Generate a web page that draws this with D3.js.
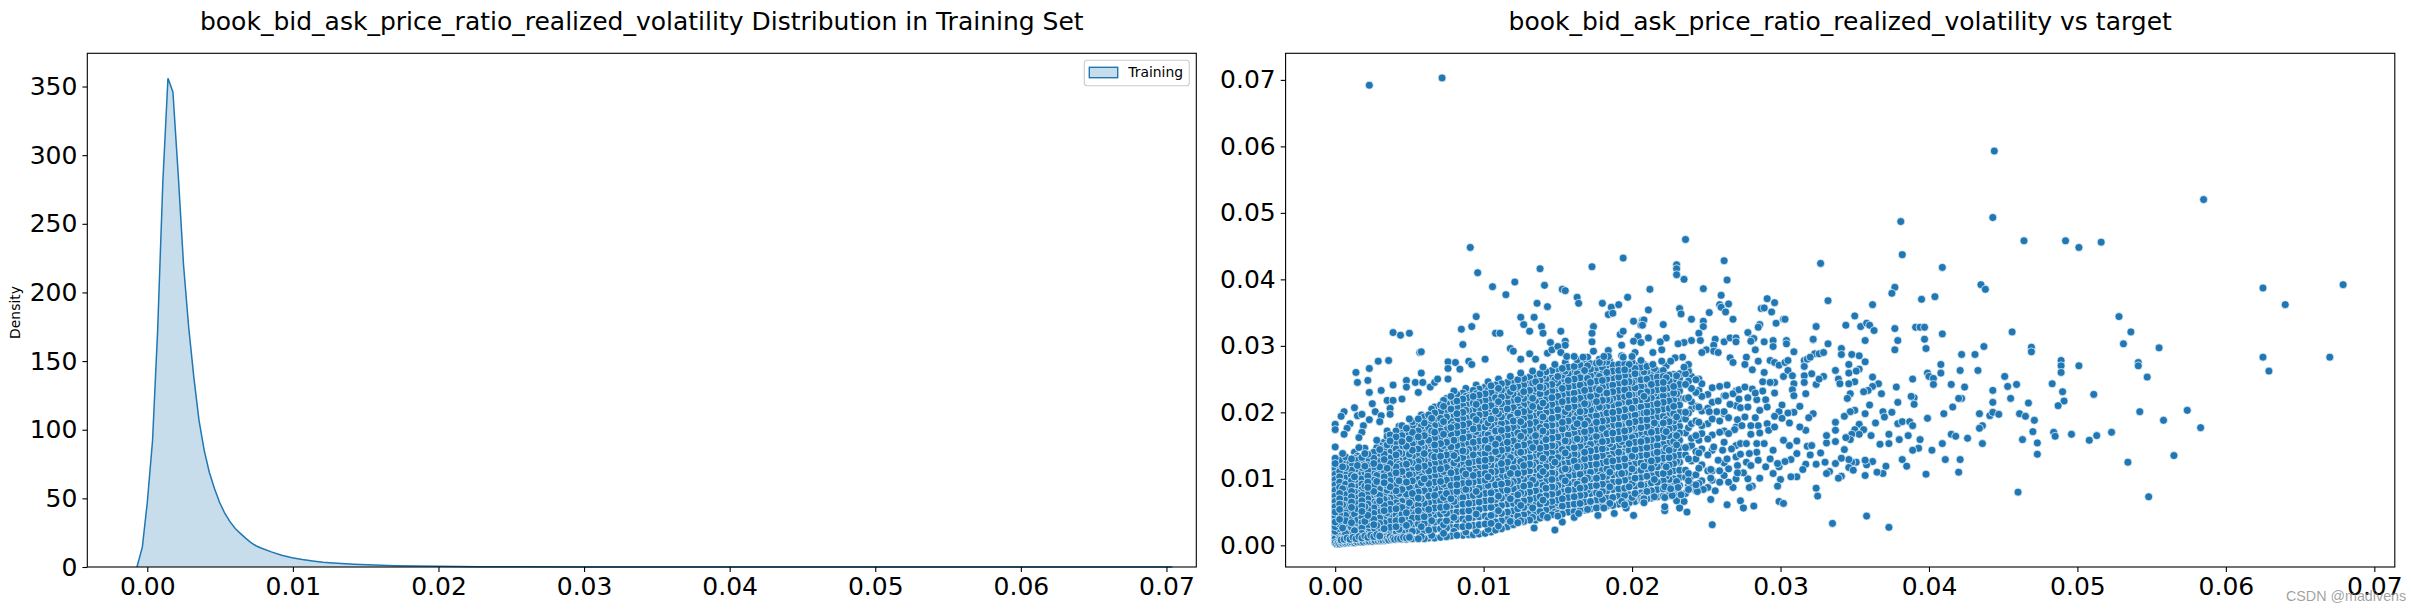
<!DOCTYPE html>
<html>
<head>
<meta charset="utf-8">
<script src="https://cdn.jsdelivr.net/npm/d3@7"></script>
<style>
html,body{margin:0;padding:0;background:#fff;overflow:hidden}
svg{display:block}
text{font-family:"DejaVu Sans",sans-serif;fill:#000}
</style>
</head>
<body>
<svg id="fig" width="2411" height="611"></svg>
<script>
const feature="book_bid_ask_price_ratio_realized_volatility";
const xTicks=[0,0.01,0.02,0.03,0.04,0.05,0.06,0.07];
const densityTicks=[0,50,100,150,200,250,300,350];
const targetTicks=[0,0.01,0.02,0.03,0.04,0.05,0.06,0.07];

// kde curve
const kdeX=[-0.00071,-0.00034,0,0.00036,0.00071,0.00107,0.00142,0.00176,0.00213,0.00249,0.00284,0.0032,0.00355,0.00391,0.00426,0.00462,0.00497,0.00533,0.00568,0.00604,0.00639,0.00675,0.0071,0.00746,0.00781,0.00852,0.00923,0.00994,0.01065,0.01136,0.01207,0.01278,0.0142,0.0156,0.017,0.0185,0.02,0.0227,0.0256,0.03,0.04,0.05,0.06,0.0704];
const kdeY=[0,14.5,47,92,172,281,356,346,285,220,175,138,107,85,69,57,47,39,33,28,24.5,21,18,15.5,13.8,11,8.5,6.7,5.4,4.4,3.5,2.9,2,1.4,1,0.7,0.5,0.25,0.12,0.05,0.02,0.01,0.01,0];

// scatter values are in units of 1e-4, flat x,y lists
const rightTail=[444,593,585,520,443,493,381,487,464,458,492,458,501,448,516,456,382,437,409,418,327,424,625,387,679,392,640,362,435,392,438,385,404,374,395,370,377,388,375,379,362,362,332,368,528,344,536,321,456,321,409,318,350,345,344,331,354,329,358,334,360,331,363,323,324,329,377,326,391,328,394,328,397,328,531,303,555,297,469,298,469,291,437,299,397,310,379,308,357,308,332,303,322,310,398,296,377,294,341,296,341,287,348,287,353,285,326,288,329,290,422,287,431,287,489,278,489,270,489,260,501,270,541,275,541,270,547,253,625,283,670,283,629,262,357,276,346,272,353,265,351,262,346,259,337,263,408,272,421,263,433,263,408,259,399,259,400,254,403,251,389,250,362,253,350,246,346,243,339,250,329,254,326,250,340,243,366,243,362,239,378,238,403,242,415,242,424,238,451,254,453,239,459,242,443,233,483,243,490,231,511,227,491,217,487,210,467,214,455,221,443,215,422,221,420,221,416,208,410,198,390,222,388,224,390,212,379,215,368,228,359,233,356,231,347,228,345,221,360,211,369,201,375,200,357,198,350,203,347,201,434,198,441,195,443,200,447,197,461,198,465,194,471,188,542,201,574,203,558,188,583,177,399,191,370,193,364,184,379,183,382,186,387,186,389,180,353,182,356,174,350,174,343,194,337,185,436,180,434,176,470,171,484,170,485,164,496,167,513,165,523,170,508,158,473,154,463,159,436,153,426,161,415,167,418,164,409,153,394,159,386,165,380,159,373,167,373,153,367,152,361,165,353,167,348,167,347,159,344,162,337,173,337,156,331,154,331,165,343,144,473,137,565,135,402,143,393,146,389,143,382,129,411,129,421,129,534,125,371,119,385,119,362,126,358,121,357,128,351,125,348,125,346,129,341,131,337,123,346,117,349,113,330,125,327,139,420,110,398,107,369,108,365,110,357,105,341,104,339,101,333,111,331,108,460,80,548,73,324,86,325,74,358,44,335,33,373,27];

const midCloud=[236,460,262,428,230,422,230,416,230,407,235,400,264,399,212,385,248,386,260,376,291,371,296,365,259,362,260,358,265,363,263,351,232,356,233,348,211,354,252,350,287,356,289,357,294,351,240,340,268,340,302,340,303,340,297,334,248,337,248,329,221,332,208,339,207,331,286,332,285,328,324,329,278,320,245,319,322,309,223,312,219,306,211,312,240,308,235,305,231,303,246,308,256,310,262,306,266,312,270,312,270,306,281,311,282,311,280,307,289,306,295,308,295,299,304,308,304,303,323,288,283,294,255,301,250,294,247,290,255,292,258,290,309,291,220,294,214,290,234,283,229,282,226,277,214,272,220,277,238,272,235,268,266,282,268,275,277,283,276,272,285,277,281,264,293,278,296,275,299,271,303,275,305,278,316,278,318,280,320,283,316,269,321,258,289,260,302,254,305,263,308,255,316,255,288,246,296,245,293,245,309,243,316,245,324,242,308,234,317,228,309,225,296,229,288,232,313,209,301,211,322,198,309,200,299,201,305,199,319,192,296,194,306,184,301,191,317,173,313,178,311,157,302,158,306,150,318,149,321,150,311,138,320,136,295,143,324,122,317,122,307,129,303,126,315,114,311,103,307,103,300,99,298,89,295,108,290,118,299,118,298,123,286,101,278,100,281,89,279,87,273,67,275,56,282,59,264,61,253,69,299,66,302,63,254,31,237,50,222,52,222,58,232,56,235,66,230,67,222,72,215,73,208,70,208,64,256,82,268,87,248,84,244,81,238,84,233,76,227,75,222,88,264,241,259,239,268,228,272,234,276,238,281,235,263,225,258,217,266,212,272,220,278,222,284,219,290,219,283,229,273,207,278,208,286,203,291,208,262,201,257,201,252,201,259,187,265,192,271,189,276,193,283,192,291,183,285,180,280,180,274,180,269,174,265,168,259,170,280,167,292,173,296,178,286,169,273,153,277,153,284,153,289,153,267,145,261,143,255,148,284,140,279,138,273,137,264,130,258,128,293,130,285,128,277,125,271,120,265,115,259,112,253,114,280,120,275,109,271,109,259,95,265,95,253,101,243,91,238,97,231,87,226,85];

const upperFringe=[23,692,72,703,91,448,96,410,138,416,173,419,194,432,106,389,115,377,121,396,141,391,153,385,155,383,163,373,164,364,136,364,143,359,180,364,186,358,191,362,197,373,184,347,187,349,201,337,207,338,206,331,95,344,92,329,85,325,125,343,134,343,127,332,131,322,139,329,140,319,152,322,174,329,173,319,173,306,192,317,194,322,193,301,204,314,201,307,206,305,145,305,155,307,155,301,39,320,44,316,50,319,108,319,111,319,86,302,118,296,120,292,57,290,58,291,29,277,36,278,76,276,81,275,90,277,92,272,101,280,76,266,84,265,125,280,131,288,135,280,143,289,146,294,150,299,152,290,156,284,161,284,167,283,174,292,178,275,184,293,184,284,181,284,194,283,202,290,200,284,206,278,23,266,14,260,58,259,15,245,22,248,48,248,48,238,54,245,59,245,64,238,67,245,69,250,76,250,23,230,31,233,39,241,56,230,35,218,39,218,45,220,25,213,37,206,13,207,6,201,4,194,15,195,18,197,27,201,31,195,37,197,23,189,30,186,0,182,0,174,10,183,8,176,6,167,19,180,18,170,16,162,0,148,16,147,5,138];

const lowerFringe=[134,26,148,23,153,35,161,42,177,45,188,48,201,45,196,56,195,61,206,71,207,69,164,48,170,54,181,56,143,42,150,44];

// stacked points hugging x=0 and the lower edge, mostly just white rims show
const leftEdge=[0,5,1,8,0,11,1,14,0,17,1,20,0,23,1,26,0,29,1,32,0,35,1,38,0,41,1,44,0,47,1,50,0,53,1,56,0,59,1,62,0,65,1,68,0,71,1,74,0,77,1,80,0,83,1,86,0,89,1,92,0,95,1,98,0,101,1,104,0,107,1,110,0,113,1,116,0,119,1,122,0,125];
const lowerCorner=[1,2,2,3,3,2,4,4,5,3,6,5,7,3,8,4,9,6,10,4,11,5,12,7,13,4,14,6,15,5,16,8,17,5,18,7,19,5,20,9,21,6,22,8,23,6,24,10,25,6,26,8,27,7,28,11,29,7,30,9,31,7,32,8,33,12,34,8,35,10,36,8,37,13,38,9,39,11,40,9,42,10,44,10,46,12,48,11,50,12,4,8,6,9,8,11,10,9,12,12,14,10,16,13,18,11,20,14,22,12,24,15,26,13,28,16,30,14];

// dense part of the cloud, column x then the y values read along it
const coreX=[0,3,7,11,15,18,22,26,30,33,37,41,45,48,52,56,60,63,67,71,75,78,82,86,90,93,97,101,105,108,112,116,120,123,127,131,135,138,142,146,150,153,157,161,165,168,172,176,180,183,187,191,195,198,202,206,210,213,217,221,225,228,232,236,240,243,247,251];
const coreY=[
[4,10,15,21,28,35,43,50,58,66,74,83,91,99,107,115,123,131],
[5,9,14,19,25,32,39,47,54,62,70,78,87,95,103,111,119,128],
[4,8,13,18,24,30,37,45,53,60,68,76,84,92,101,109,117,126,133],
[5,9,14,20,27,34,41,49,57,65,73,81,89,97,105,113,121,130],
[5,10,16,23,31,38,46,55,63,71,79,88,96,104,112,120,128,134],
[6,11,18,26,34,42,51,59,67,75,84,92,100,108,117,125,132],
[6,12,20,29,37,45,53,62,70,79,87,95,104,112,120,129,137],
[6,13,22,31,39,48,56,65,73,81,90,98,107,115,123,131,140],
[7,14,24,33,41,50,58,67,75,84,92,101,109,118,126,135,144,150],
[7,15,25,34,43,52,60,69,77,86,94,103,112,120,129,137,146,155],
[8,17,27,36,45,54,62,71,80,88,97,105,114,123,131,140,148,157,166],
[9,18,28,37,46,55,64,73,82,91,100,109,118,127,136,145,154,163,172],
[9,19,29,38,47,57,66,75,84,93,102,111,120,129,138,147,156,165,174,180],
[9,20,30,40,49,58,67,77,86,95,104,113,122,131,140,149,158,167,176],
[10,21,31,41,50,60,69,78,88,97,106,115,124,134,143,152,161,170,179,186],
[10,21,32,42,52,61,71,80,89,99,108,117,126,136,145,154,163,172,181,190],
[10,22,33,43,53,63,72,82,91,100,110,119,128,138,147,156,165,175,184,193],
[11,23,34,44,54,64,74,83,93,102,112,121,130,140,149,158,168,177,186,196],
[11,24,35,46,56,66,75,85,95,104,114,123,133,142,151,161,170,180,189,199,208],
[12,25,36,47,57,67,77,87,96,106,115,125,134,144,153,163,172,182,191,201,211],
[13,26,37,48,58,68,78,88,98,107,117,126,136,146,155,165,174,184,193,203,213,221],
[14,27,38,49,60,70,80,90,100,109,119,129,138,148,157,167,177,186,196,205,215,224],
[15,28,39,50,61,71,81,91,101,111,120,130,140,150,159,169,179,188,198,208,217,227],
[15,28,40,51,62,72,83,93,103,112,122,132,142,152,161,171,181,190,200,210,220,229],
[16,29,41,52,63,74,84,94,104,114,124,134,144,153,163,173,183,192,202,212,222,231],
[16,30,42,53,64,75,85,95,105,115,126,136,145,155,165,175,184,194,204,214,224,233],
[17,31,43,54,65,76,86,97,107,117,127,137,147,157,167,177,186,196,206,216,226,235],
[18,32,44,56,67,78,88,98,108,118,128,138,148,158,168,178,188,198,208,218,228,238],
[20,33,45,57,68,79,89,100,110,120,130,140,150,160,170,180,190,200,210,220,230,240],
[23,35,47,58,69,80,91,101,111,121,131,141,152,162,172,182,192,202,212,222,232,241],
[25,37,48,60,71,82,92,103,113,123,133,143,153,163,173,183,193,203,213,223,233,243],
[28,39,50,62,73,83,94,104,115,125,135,145,155,165,175,185,195,205,215,225,235,245],
[31,41,52,63,74,85,96,106,116,127,137,147,157,167,177,187,197,207,217,227,237,247],
[34,44,55,65,76,87,97,108,118,129,139,149,159,169,179,189,199,209,219,229,239,249],
[36,46,57,67,78,89,99,110,120,130,141,151,161,171,181,191,201,211,221,231,241,251],
[38,48,59,69,80,91,101,112,122,132,143,153,163,173,183,193,203,213,223,233,243,253],
[38,49,61,71,82,93,103,114,124,134,144,155,165,175,185,195,206,216,226,236,246,256],
[41,51,62,73,84,95,105,116,126,136,146,157,167,177,187,198,208,218,228,238,248,258],
[43,53,64,75,86,97,107,118,128,138,148,159,169,179,189,200,210,220,230,240,250,261],
[46,56,66,77,88,99,109,120,130,140,150,161,171,181,191,202,212,222,232,242,252,263],
[48,58,68,79,90,100,111,122,132,142,152,163,173,183,193,204,214,224,234,244,254,265],
[47,59,70,81,92,102,113,123,134,144,154,165,175,185,195,206,216,226,236,246,256,266],
[50,61,72,83,93,104,114,125,135,146,156,166,177,187,197,207,218,228,238,248,258,268],
[51,62,73,84,95,106,116,127,137,147,158,168,178,189,199,209,219,229,240,250,260,269],
[52,63,75,86,96,107,118,128,139,149,159,170,180,190,201,211,221,231,241,252,262,271],
[53,65,76,87,98,109,119,130,140,151,161,171,182,192,202,213,223,233,243,253,263,272],
[55,66,78,89,100,110,121,132,142,152,163,173,183,194,204,214,224,235,245,255,265,273],
[56,68,79,90,101,112,122,133,144,154,164,175,185,195,206,216,226,236,247,257,267,274],
[58,69,81,92,103,113,124,135,145,156,166,176,187,197,207,218,228,238,248,258,268,275],
[59,71,82,93,104,115,126,136,147,157,168,178,188,199,209,219,229,240,250,260,270,276],
[60,72,84,95,106,117,127,138,148,159,169,180,190,200,211,221,231,241,252,262,271],
[62,74,85,96,107,118,129,140,150,160,171,181,192,202,212,223,233,243,253,263,272],
[63,75,86,98,109,120,130,141,152,162,172,183,193,204,214,224,234,245,255,264,273],
[64,76,88,99,110,121,132,143,153,164,174,184,195,205,215,226,236,246,256,265,272],
[66,78,89,101,112,123,133,144,155,165,176,186,196,207,217,227,237,248,258,266,271],
[68,79,91,102,113,124,135,146,156,167,177,188,198,208,219,229,239,249,259,268],
[70,81,92,104,115,126,136,147,158,168,179,189,200,210,220,231,241,250,260,269],
[71,82,94,105,116,127,138,149,159,170,180,191,201,211,222,232,242,252,261],
[73,84,95,107,118,129,140,150,161,172,182,193,203,213,224,234,244,253,262],
[74,85,97,108,120,131,141,152,163,173,184,194,205,215,225,235,245,254,263],
[75,87,99,110,121,132,143,154,165,175,186,196,206,217,227,237,247,256],
[76,89,100,112,123,134,145,156,166,177,187,198,209,219,229,239,249,257],
[78,90,102,113,125,136,147,158,169,179,190,200,211,221,232,242,251,258],
[78,102,113,136,147,169,190,200,221,242,258],
[92,104,127,150,161,183,205,216,236,254],
[82,106,130,141,165,187,209,230,249],
[97,121,145,168,180,202,224,243],
[87,112,136,160,183,206,227],
[102,127,152,176,198,220,240]
];

// second pass over the same area, these do not line up with the first columns
const looseX=[5,13,20,28,35,43,50,58,65,73,80,88,95,103,110,118,125,133,140,148,155,163,170,178,185,193,200,208,215,223,230,238,245,254,262,270];
const looseY=[
[12,26,33,52,61,85,94,118,127,136],
[7,22,40,47,71,80,103,124,131,140],
[9,17,36,58,65,89,110,119,138,146],
[10,30,44,63,77,96,105,128,147,158],
[11,27,49,68,83,90,116,133,151,164,172],
[12,24,41,59,78,97,122,139,145,168,179],
[14,33,55,64,87,106,125,137,160,174,190],
[13,28,46,70,94,103,129,148,155,179,196],
[15,37,51,79,90,117,135,144,172,191,205],
[18,31,53,72,92,111,128,150,167,186,209,218],
[21,42,66,76,99,124,135,158,181,194,216,232],
[20,35,59,84,107,116,141,163,178,203,224,236],
[22,47,68,81,110,130,148,171,189,212,228,241],
[24,39,63,90,103,125,146,166,184,205,233,246],
[29,52,74,96,119,137,160,175,198,216,236,250],
[36,46,70,93,108,132,152,176,193,211,231,254],
[37,60,79,104,126,140,164,186,204,226,247,259],
[42,56,84,98,121,147,161,181,209,221,244,262],
[45,68,90,111,131,154,172,193,214,237,255,268],
[50,63,87,108,125,149,170,191,205,231,249,272],
[52,74,97,115,139,157,178,201,222,240,262,275],
[55,70,92,118,136,160,183,196,219,243,258,279],
[58,83,101,127,145,168,187,212,230,251,270,283],
[60,77,105,122,149,174,191,208,234,254,274,280],
[63,88,110,131,153,171,196,218,239,260,277],
[66,84,108,137,156,180,203,215,242,257,272,285],
[72,93,115,134,162,177,206,226,245,264,276],
[75,90,119,142,160,188,199,224,238,261,272],
[78,99,123,138,167,184,210,229,248,266],
[82,104,118,146,171,189,213,235,252,270],
[86,96,126,151,165,193,218,228,255],
[90,108,130,148,177,199,222,247,262],
[93,116,139,158,185,208,233,250],
[98,112,143,166,190,215,237],
[105,124,155,172,198,225],
[100,133,150,178,210,232]
];

const pairs=flat=>d3.range(0,flat.length,2).map(i=>[flat[i],flat[i+1]]);
const columns=(xs,ys)=>xs.flatMap((x,i)=>ys[i].map(y=>[x,y]));
// seaborn plots rows in file order, so mix the draw order of the columns a bit
const mixed=[...columns(coreX,coreY),...columns(looseX,looseY)].sort((a,b)=>(a[0]*31+a[1]*17)%23-(b[0]*31+b[1]*17)%23);
const scatterRows=[...pairs(leftEdge),...mixed,...pairs(lowerFringe),...pairs(upperFringe),...pairs(midCloud),...pairs(rightTail),...pairs(lowerCorner)];

const svg=d3.select("#fig");
const tickFmt=d3.format(".2f");
const axTop=53.3,axBottom=567;

function frame(g,x,y,yFmt,yVals){
  g.append("rect").attr("x",x.range()[0]).attr("y",axTop).attr("width",x.range()[1]-x.range()[0]).attr("height",axBottom-axTop)
    .attr("fill","none").attr("stroke","#000").attr("stroke-width",1.1);
  const ax=g.append("g").attr("transform",`translate(0,${axBottom})`)
    .call(d3.axisBottom(x).tickValues(xTicks).tickFormat(tickFmt).tickSize(4.9).tickPadding(5));
  const ay=g.append("g").attr("transform",`translate(${x.range()[0]},0)`)
    .call(d3.axisLeft(y).tickValues(yVals).tickFormat(yFmt).tickSize(4.9).tickPadding(5));
  for(const a of [ax,ay]){
    a.select(".domain").remove();
    a.selectAll("line").attr("stroke","#000").attr("stroke-width",1.1);
    a.selectAll("text").attr("font-size",25).attr("font-family",'"DejaVu Sans"').attr("fill","#000");
  }
}

// left panel
const x1=d3.scaleLinear().domain([-0.00412,0.07205]).range([87.3,1196.3]);
const y1=d3.scaleLinear().domain([0,374.2]).range([axBottom,axTop]);
const kdeRows=kdeX.map((x,i)=>[x,kdeY[i]]);
const leftPanel=svg.append("g");
leftPanel.append("path").datum(kdeRows)
  .attr("d",d3.area().x(d=>x1(d[0])).y0(y1(0)).y1(d=>y1(d[1])))
  .attr("fill","#1f77b4").attr("fill-opacity",0.25);
leftPanel.append("path").datum(kdeRows)
  .attr("d",d3.line().x(d=>x1(d[0])).y(d=>y1(d[1])))
  .attr("fill","none").attr("stroke","#1f77b4").attr("stroke-width",1.5);
frame(leftPanel,x1,y1,d3.format("d"),densityTicks);
leftPanel.append("text").attr("x",641.8).attr("y",29.5).attr("text-anchor","middle").attr("font-size",25)
  .text(`${feature} Distribution in Training Set`);
leftPanel.append("text").attr("transform","translate(20,312.5) rotate(-90)").attr("text-anchor","middle").attr("font-size",13.9).text("Density");
leftPanel.append("rect").attr("x",1084.3).attr("y",60.3).attr("width",105).attr("height",25.4).attr("rx",3)
  .attr("fill","#fff").attr("fill-opacity",0.8).attr("stroke","#ccc").attr("stroke-width",1.1);
leftPanel.append("rect").attr("x",1089.3).attr("y",67.3).attr("width",28.4).attr("height",10.4)
  .attr("fill","#c7ddec").attr("stroke","#1f77b4").attr("stroke-width",1.4);
leftPanel.append("text").attr("x",1128.3).attr("y",77.3).attr("font-size",13.9).text("Training");

// right panel
const x2=d3.scaleLinear().domain([-0.00334,0.07138]).range([1285.6,2394.8]);
const y2=d3.scaleLinear().domain([-0.00326,0.074]).range([axBottom,axTop]);
const rightPanel=svg.append("g");
rightPanel.append("g").selectAll("circle").data(scatterRows).join("circle")
  .attr("cx",d=>x2(d[0]/1e4)).attr("cy",d=>y2(d[1]/1e4)).attr("r",4)
  .attr("fill","#1f77b4").attr("stroke","#fff").attr("stroke-width",0.8).attr("stroke-opacity",0.85);
frame(rightPanel,x2,y2,tickFmt,targetTicks);
rightPanel.append("text").attr("x",1840.2).attr("y",29.5).attr("text-anchor","middle").attr("font-size",25)
  .text(`${feature} vs target`);

svg.append("text").attr("x",2286).attr("y",600.5).attr("font-size",14.3)
  .style("font-family",'"Liberation Sans",sans-serif').style("fill","rgba(130,130,130,.75)").text("CSDN @madivens");
</script>
</body>
</html>
